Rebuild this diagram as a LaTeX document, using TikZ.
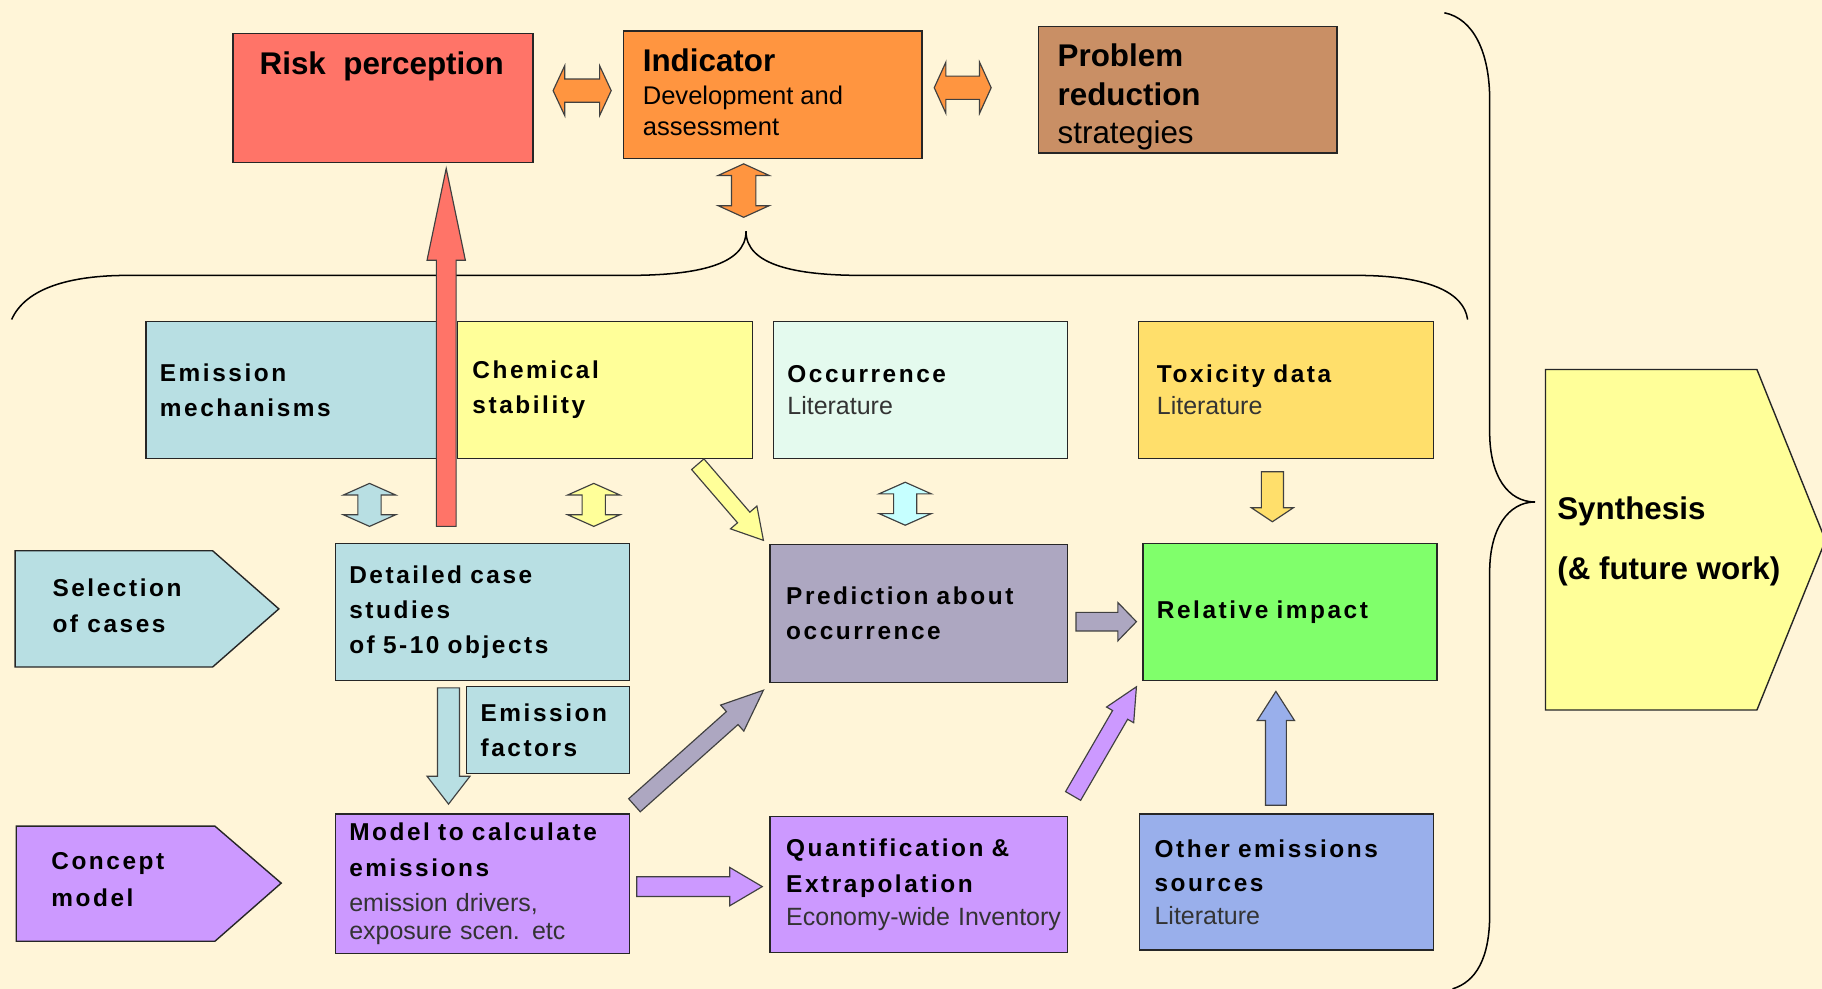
\documentclass[tikz,border=0pt]{standalone}
\usepackage{fontspec}
\setmainfont{Liberation Sans}
\newfontfamily\trk{Liberation Sans}[LetterSpace=10.5]
\usetikzlibrary{calc}
\definecolor{bg}{HTML}{FFF5D8}
\definecolor{cRisk}{HTML}{FF7468}
\definecolor{cInd}{HTML}{FF9540}
\definecolor{cProb}{HTML}{C98F65}
\definecolor{cBlue}{HTML}{B8DFE3}
\definecolor{cYel}{HTML}{FFFF99}
\definecolor{cOcc}{HTML}{E4FAEE}
\definecolor{cTox}{HTML}{FFDF6B}
\definecolor{cPred}{HTML}{ADA7C1}
\definecolor{cGreen}{HTML}{80FF6B}
\definecolor{cLav}{HTML}{CC99FF}
\definecolor{cPeri}{HTML}{99AFEB}
\definecolor{cCyan}{HTML}{C6FFFF}
\newcommand\subt[1]{{\normalfont\fontsize{21.5}{28}\selectfont\color{black!80}#1}}
% single block arrow: fill, start, end, half shaft, half head, head length
\newcommand\sarrow[6]{%
  \coordinate (tmpH) at ($(#3)!#6pt!(#2)$);
  \draw[barrow, fill=#1] ($(#2)!#4pt!90:(#3)$) -- ($(tmpH)!#4pt!90:(#3)$) -- ($(tmpH)!#5pt!90:(#3)$) -- (#3)
    -- ($(tmpH)!#5pt!-90:(#3)$) -- ($(tmpH)!#4pt!-90:(#3)$) -- ($(#2)!#4pt!-90:(#3)$) -- cycle;}
% double block arrow
\newcommand\darrow[6]{%
  \coordinate (tmpA) at ($(#2)!#6pt!(#3)$);
  \coordinate (tmpB) at ($(#3)!#6pt!(#2)$);
  \draw[barrow, fill=#1] (#2) -- ($(tmpA)!#5pt!90:(#3)$) -- ($(tmpA)!#4pt!90:(#3)$) -- ($(tmpB)!#4pt!-90:(#2)$)
    -- ($(tmpB)!#5pt!-90:(#2)$) -- (#3) -- ($(tmpB)!#5pt!90:(#2)$) -- ($(tmpB)!#4pt!90:(#2)$)
    -- ($(tmpA)!#4pt!-90:(#3)$) -- ($(tmpA)!#5pt!-90:(#3)$) -- cycle;}
\tikzset{
  bx/.style={draw=black!85, line width=1.2pt, anchor=north west, inner xsep=0pt, inner ysep=0pt,
    align=left, font={\trk\bfseries\fontsize{21}{30}\selectfont}},
  tbx/.style={draw=black!85, line width=1.2pt, anchor=north west, inner sep=0pt},
  ttl/.style={inner sep=0pt, align=left, font={\bfseries\fontsize{27}{33}\selectfont}},
  mtl/.style={inner sep=0pt, align=left, anchor=north west, font={\trk\bfseries\fontsize{21}{30.5}\selectfont}},
  barrow/.style={draw=black!75, line width=1pt, line join=miter},
  brace/.style={draw=black, line width=1.3pt},
  pent/.style={draw=black!85, line width=1.2pt, line join=miter}
}
\begin{document}
\begin{tikzpicture}[x=1pt,y=-1pt]
\fill[bg] (0,0) rectangle (1568,851);
\useasboundingbox (0,0) rectangle (1568,851);

% top row
\node[tbx, fill=cRisk, minimum width=258pt, minimum height=111pt] (risk) at (200,28) {};
\node[ttl, anchor=base] (risklbl) at (328.5,64) {Risk~~perception};
\node[tbx, fill=cInd, minimum width=257pt, minimum height=110pt] (ind) at (536,26) {};
\node[ttl, anchor=north west, font={\fontsize{22}{26.5}\selectfont}] (indlbl) at (553,41.7)
  {{\bfseries\fontsize{27}{27}\selectfont Indicator}\\[2pt]Development and\\assessment};
\node[tbx, fill=cProb, minimum width=257pt, minimum height=109pt] (prob) at (893,22) {};
\node[ttl, anchor=north west] (problbl) at (910,37.7)
  {Problem\\reduction\\{\normalfont\fontsize{27}{33}\selectfont strategies}};

% braces
\draw[brace] (10,275) .. controls (22,248) and (60,237) .. (110,237) -- (540,237)
  .. controls (600,237) and (642,228) .. (642,199) .. controls (642,228) and (684,237) .. (742,237)
  -- (1167,237) .. controls (1230,237) and (1260,252) .. (1263,275);
\draw[brace] (1243,11) .. controls (1268,16) and (1282,45) .. (1282,86) -- (1282,372)
  .. controls (1282,410) and (1298,432) .. (1321,432) .. controls (1298,432) and (1282,455) .. (1282,492)
  -- (1282,787) .. controls (1282,825) and (1270,845) .. (1250,851);

% synthesis
\draw[pent, fill=cYel] (1330,318) -- (1512,318) -- (1571,465) -- (1512,611) -- (1330,611) -- cycle;
\node[ttl, anchor=north west, font={\bfseries\fontsize{27}{51}\selectfont}] (syn) at (1340,427.7)
  {Synthesis\\(\& future work)};

% middle row
\node[bx, fill=cBlue, minimum width=254pt, minimum height=118pt, text width=230pt] (emech) at (125,276) {Emission\\mechanisms};
\node[bx, fill=cYel, minimum width=254pt, minimum height=118pt, text width=228pt] (chem) at (393,276) {Chemical\\stability};
\node[bx, fill=cOcc, minimum width=253pt, minimum height=118pt, text width=229pt] (occ) at (665,276) {Occurrence\\[-2pt]\subt{Literature}};
\node[bx, fill=cTox, minimum width=254pt, minimum height=118pt, text width=222pt] (tox) at (979,276) {Toxicity data\\[-2pt]\subt{Literature}};

% third row
\draw[pent, fill=cBlue] (13,474) -- (183,474) -- (240,524) -- (183,574) -- (13,574) -- cycle;
\node[mtl] (sel) at (45,498.2) {Selection\\of cases};
\node[bx, fill=cBlue, minimum width=253pt, minimum height=118pt, text width=229pt] (det) at (288,467) {Detailed case\\studies\\of 5-10 objects};
\node[bx, fill=cPred, minimum width=256pt, minimum height=119pt, text width=228pt] (pred) at (662,468) {Prediction about\\occurrence};
\node[bx, fill=cGreen, minimum width=253pt, minimum height=118pt, text width=229pt] (rel) at (983,467) {Relative impact};

% fourth row
\node[bx, fill=cBlue, minimum width=140pt, minimum height=75pt, text width=116pt] (efac) at (401,590) {Emission\\factors};
\draw[pent, fill=cLav] (14,711) -- (185,711) -- (242,760) -- (185,810) -- (14,810) -- cycle;
\node[mtl, font={\trk\bfseries\fontsize{21}{31.6}\selectfont}] (conc) at (44,733.7) {Concept\\model};
\node[bx, fill=cLav, minimum width=253pt, minimum height=120pt, text width=229pt] (model) at (288,700)
  {Model to calculate\\[1.5pt]emissions\\\subt{emission drivers,}\\[-6pt]\subt{exposure scen. etc}};
\node[bx, fill=cLav, minimum width=256pt, minimum height=117pt, text width=228pt] (quant) at (662,702)
  {Quantification \&\\[1.5pt]Extrapolation\\[-2pt]\subt{\mbox{Economy-wide Inventory}}};
\node[bx, fill=cPeri, minimum width=253pt, minimum height=117pt, text width=227pt] (other) at (980,700)
  {Other emissions\\sources\\[-2pt]\subt{Literature}};

% arrow end points
\coordinate (a1s) at (476,78);    \coordinate (a1e) at (526,78);
\coordinate (a2s) at (804,75.5);  \coordinate (a2e) at (853,75.5);
\coordinate (a3s) at (640,141);   \coordinate (a3e) at (640,187);
\coordinate (a4s) at (318,416);   \coordinate (a4e) at (318,453);
\coordinate (a5s) at (511,416);   \coordinate (a5e) at (511,453);
\coordinate (a6s) at (779,415);   \coordinate (a6e) at (779,452);
\coordinate (r1s) at (384,453);   \coordinate (r1e) at (384,145);
\coordinate (y1s) at (600.5,399.5); \coordinate (y1e) at (657,465);
\coordinate (g1s) at (926,535);   \coordinate (g1e) at (978,535);
\coordinate (t1s) at (1095,406);  \coordinate (t1e) at (1095,449);
\coordinate (b1s) at (386,592);   \coordinate (b1e) at (386,692);
\coordinate (p1s) at (548,763);   \coordinate (p1e) at (656,763);
\coordinate (g2s) at (546,693);   \coordinate (g2e) at (657,594);
\coordinate (p2s) at (923.5,685); \coordinate (p2e) at (978,591);
\coordinate (u1s) at (1098,693);  \coordinate (u1e) at (1098,595);

\darrow{cInd}{a1s}{a1e}{10}{21.5}{10}
\darrow{cInd}{a2s}{a2e}{10}{22}{10}
\darrow{cInd}{a3s}{a3e}{10.5}{22}{10}
\darrow{cBlue}{a4s}{a4e}{10}{22.5}{10}
\darrow{cYel}{a5s}{a5e}{10}{22.5}{10}
\darrow{cCyan}{a6s}{a6e}{10}{22.5}{10}
\sarrow{cRisk}{r1s}{r1e}{8.5}{16.5}{79}
\sarrow{cYel}{y1s}{y1e}{7}{15}{26}
\sarrow{cPred}{g1s}{g1e}{8}{16.5}{16}
\sarrow{cTox}{t1s}{t1e}{9.5}{18}{12}
\sarrow{cBlue}{b1s}{b1e}{9.5}{18.5}{24}
\sarrow{cLav}{p1s}{p1e}{8.5}{16.5}{28}
\sarrow{cPred}{g2s}{g2e}{7.5}{15}{36}
\sarrow{cLav}{p2s}{p2e}{7.5}{13.5}{28}
\sarrow{cPeri}{u1s}{u1e}{9}{16}{25}
\end{tikzpicture}
\end{document}
